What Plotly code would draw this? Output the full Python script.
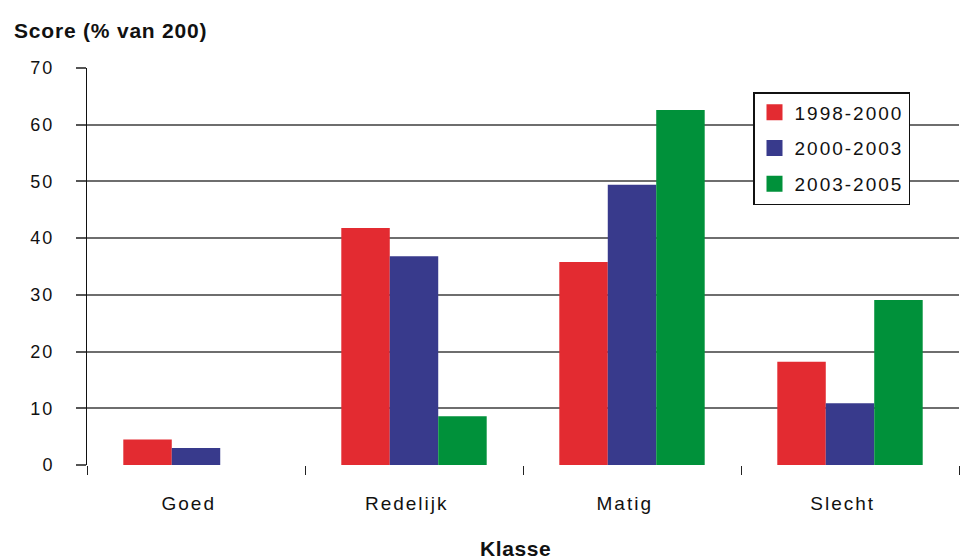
import plotly.graph_objects as go

categories = ["Goed", "Redelijk", "Matig", "Slecht"]
periods = ["1998-2000", "2000-2003", "2003-2005"]
scores_1998_2000 = [4.5, 41.8, 35.8, 18.2]
scores_2000_2003 = [3.0, 36.8, 49.4, 10.9]
scores_2003_2005 = [0.0, 8.6, 62.6, 29.1]
y_ticks = [0, 10, 20, 30, 40, 50, 60, 70]
colors = ["#E32B31", "#383A8C", "#00913A"]

series = [scores_1998_2000, scores_2000_2003, scores_2003_2005]

W, H = 967, 560
L, R, T, B = 87, 8, 68, 95
PW, PH = W - L - R, H - T - B

font = "Liberation Sans, Arial, sans-serif"


def spaced(s, px=2, pad=""):
    return f'<span style="letter-spacing:{px}px">{s}{pad}</span>'


fig = go.Figure()
for name, vals, col in zip(periods, series, colors):
    fig.add_trace(go.Bar(
        x=categories, y=vals, name=name, showlegend=False,
        marker=dict(color=col, line=dict(width=0)),
    ))
# legend entries with larger square swatches
for name, col in zip(periods, colors):
    fig.add_trace(go.Scatter(
        x=[None], y=[None], mode="markers", name=spaced(name),
        legendgroup=name,
        marker=dict(symbol="square", size=16, color=col, line=dict(width=0)),
    ))

fig.update_layout(
    width=W, height=H,
    margin=dict(l=L, r=R, t=T, b=B),
    paper_bgcolor="white", plot_bgcolor="white",
    barmode="group", bargap=0.333, bargroupgap=0,
    font=dict(family=font, size=18, color="#111"),
    showlegend=True,
    legend=dict(
        x=(753 - L) / PW, y=1 - (92 - T) / PH,
        xanchor="left", yanchor="top",
        bgcolor="white", bordercolor="#111", borderwidth=1.5,
        font=dict(family=font, size=19, color="#111"),
        tracegroupgap=8, itemwidth=30,
    ),
    xaxis=dict(
        tickvals=categories,
        ticktext=[spaced(c, pad="&nbsp;&nbsp;") for c in categories],
        tickson="boundaries", ticks="outside", ticklen=9, tickcolor="#222",
        tickwidth=1, showgrid=False, showline=False, zeroline=False,
        tickfont=dict(family=font, size=19, color="#111"),
        ticklabelstandoff=25,
    ),
    yaxis=dict(
        range=[0, 70], tickvals=y_ticks,
        ticktext=[spaced(str(v)) for v in y_ticks],
        ticks="outside", ticklen=10, tickcolor="#555", tickwidth=1.5,
        showgrid=True, gridcolor="#6e6e6e", gridwidth=1.5,
        showline=True, linecolor="#111", linewidth=1,
        zeroline=False,
        tickfont=dict(family=font, size=18, color="#111"),
        ticklabelstandoff=18,
    ),
    annotations=[
        dict(text="<b>" + spaced("Score (% van 200)", 0.8) + "</b>",
             xref="paper", yref="paper",
             x=(12 - L) / PW, y=1 + (T - 30) / PH,
             xanchor="left", yanchor="middle", showarrow=False,
             font=dict(family=font, size=21, color="#111")),
        dict(text="<b>" + spaced("Klasse", 0.6) + "</b>",
             xref="paper", yref="paper",
             x=(515 - L) / PW, y=-(548 - (H - B)) / PH,
             xanchor="center", yanchor="middle", showarrow=False,
             font=dict(family=font, size=21, color="#111")),
    ],
)

fig.write_html("out.html")
